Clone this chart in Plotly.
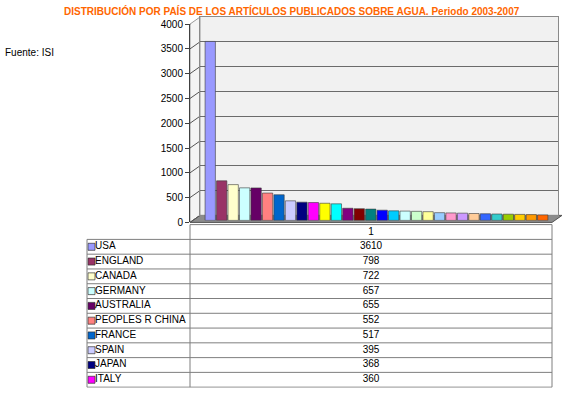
import plotly.graph_objects as go

W, H = 568, 393

title_text = "DISTRIBUCIÓN POR PAÍS DE LOS ARTÍCULOS PUBLICADOS SOBRE AGUA. Periodo 2003-2007"
source_text = "Fuente: ISI"
category = ["1"]

countries = ["USA", "ENGLAND", "CANADA", "GERMANY", "AUSTRALIA",
             "PEOPLES R CHINA", "FRANCE", "SPAIN", "JAPAN", "ITALY"]
values = [3610, 798, 722, 657, 655, 552, 517, 395, 368, 360,
          346, 334, 245, 236, 228, 206, 193, 188, 183, 176,
          156, 151, 146, 139, 134, 129, 125, 121, 117, 111]
y_ticks = [0, 500, 1000, 1500, 2000, 2500, 3000, 3500, 4000]

colors = ["#9999FF", "#993366", "#FFFFCC", "#CCFFFF", "#660066", "#FF8080",
          "#0066CC", "#CCCCFF", "#000080", "#FF00FF", "#FFFF00", "#00FFFF",
          "#800080", "#800000", "#008080", "#0000FF", "#00CCFF", "#CCFFFF",
          "#CCFFCC", "#FFFF99", "#99CCFF", "#FF99CC", "#CC99FF", "#FFCC99",
          "#3366FF", "#33CCCC", "#99CC00", "#FFCC00", "#FF9900", "#FF6600"]

FONT = "Liberation Sans, Arial, sans-serif"

# the captured picture maps figure rows as y_pic = 6.7 + 0.967 * y_fig;
# layout positions below are given in picture pixels and converted here
Y_OFF, Y_SCALE = 6.7, 0.967


def px(x):
    return x / W


def py(y):
    v = 1 - ((y - Y_OFF) / Y_SCALE) / H
    return min(1.0, max(0.0, v))


fig = go.Figure()

# ---- bars (mid-depth axes)
for i, v in enumerate(values):
    fig.add_trace(go.Bar(
        x=category, y=[v], name=countries[i] if i < len(countries) else f"{i+1}",
        marker=dict(color=colors[i], line=dict(color="#3a3a3a", width=0.6)),
        xaxis="x2", yaxis="y2", showlegend=False, hoverinfo="skip"))

fig.add_trace(go.Scatter(x=category, y=[None], xaxis="x", yaxis="y", showlegend=False))
fig.add_trace(go.Scatter(x=category, y=[None], xaxis="x3", yaxis="y3", showlegend=False))

# ---- data table on its own axes (x in pixel units, y = row index)
n_rows = len(countries)
rows = list(range(n_rows))
TX0, TX1, TDIV = 87, 552, 190
LABEL_X = 95
KEY_X = 91.5
VALUE_X = (TDIV + TX1) / 2

fig.add_trace(go.Scatter(
    x=[KEY_X] * n_rows, y=rows, mode="markers",
    marker=dict(symbol="square", size=7, color=colors[:n_rows],
                line=dict(color="#333333", width=0.7)),
    xaxis="x4", yaxis="y4", showlegend=False, hoverinfo="skip"))
fig.add_trace(go.Scatter(
    x=[LABEL_X] * n_rows, y=rows, mode="text", text=countries,
    textposition="middle right", textfont=dict(family=FONT, size=10, color="black"),
    xaxis="x4", yaxis="y4", showlegend=False, hoverinfo="skip"))
fig.add_trace(go.Scatter(
    x=[VALUE_X] * n_rows, y=rows, mode="text", text=[str(v) for v in values[:n_rows]],
    textposition="middle center", textfont=dict(family=FONT, size=10, color="black"),
    xaxis="x4", yaxis="y4", showlegend=False, hoverinfo="skip"))
fig.add_trace(go.Scatter(
    x=[VALUE_X], y=[-1], mode="text", text=category,
    textposition="middle center", textfont=dict(family=FONT, size=10, color="black"),
    xaxis="x4", yaxis="y4", showlegend=False, hoverinfo="skip"))

GRID = "#7f7f7f"
shapes = []
for r in range(n_rows + 1):
    shapes.append(dict(type="line", xref="x4", yref="y4", x0=TX0, x1=TX1,
                       y0=r - 0.5, y1=r - 0.5, line=dict(color=GRID, width=1)))
shapes.append(dict(type="line", xref="x4", yref="y4", x0=TDIV, x1=TX1,
                   y0=-1.5, y1=-1.5, line=dict(color=GRID, width=1)))
shapes.append(dict(type="line", xref="x4", yref="y4", x0=TX0, x1=TX0,
                   y0=-0.5, y1=n_rows - 0.5, line=dict(color=GRID, width=1)))
for xx in (TDIV, TX1):
    shapes.append(dict(type="line", xref="x4", yref="y4", x0=xx, x1=xx,
                       y0=-1.5, y1=n_rows - 0.5, line=dict(color=GRID, width=1)))

DY = 7 * 4000 / 197.3  # back-wall offset in value units

# back wall
shapes.append(dict(type="rect", xref="paper", yref="paper", x0=px(200), x1=px(558),
                   y0=py(215), y1=py(17.7), fillcolor="#F1F1F1",
                   line=dict(width=0), layer="below"))
# left wall
shapes.append(dict(type="path", xref="paper", yref="paper",
                   path=f"M {px(190)} {py(222)} L {px(190)} {py(24.7)} L {px(200)} {py(17.7)} L {px(200)} {py(215)} Z",
                   fillcolor="#F4F4F4", line=dict(color="#9a9a9a", width=1), layer="below"))
# floor
shapes.append(dict(type="path", xref="paper", yref="paper",
                   path=f"M {px(190)} {py(222)} L {px(552)} {py(222)} L {px(562)} {py(215)} L {px(200)} {py(215)} Z",
                   fillcolor="#8c8c8c", line=dict(color="#555555", width=1), layer="below"))
# left-wall connectors from front ticks to back gridlines
for t in y_ticks:
    shapes.append(dict(type="line", xref="paper", yref="y3", x0=px(190), x1=px(200),
                       y0=t, y1=t + DY, line=dict(color="#555555", width=1), layer="below"))

ROW_H = 14.7
TABLE_TOP = 224.2
TABLE_BOTTOM = TABLE_TOP + ROW_H * (n_rows + 1)

fig.update_layout(
    width=W, height=H,
    margin=dict(l=0, r=0, t=0, b=0),
    paper_bgcolor="white",
    plot_bgcolor="rgba(0,0,0,0)",
    barmode="group", bargap=0.02, bargroupgap=0.1,
    showlegend=False,
    font=dict(family=FONT, size=10, color="black"),
    shapes=shapes,
    # back wall axes (gridlines)
    xaxis=dict(domain=[px(200), px(558)], anchor="y", visible=True, showticklabels=False,
               ticks="", showgrid=False, showline=True, linecolor="#8a8a8a", mirror=True,
               fixedrange=True),
    yaxis=dict(domain=[py(215), py(17.7)], anchor="x", range=[0, 4000], tickvals=y_ticks,
               showticklabels=False, ticks="", showgrid=True, gridcolor="#6b6b6b",
               gridwidth=1, zeroline=False, showline=True, linecolor="#8a8a8a",
               mirror=True, fixedrange=True),
    # bars
    xaxis2=dict(domain=[px(201), px(552)], anchor="y2", visible=False, fixedrange=True),
    yaxis2=dict(domain=[py(220), py(22.7)], anchor="x2", range=[0, 4000], visible=False,
                fixedrange=True),
    # front value axis
    xaxis3=dict(domain=[px(190), px(552)], anchor="y3", visible=False, fixedrange=True),
    yaxis3=dict(domain=[py(222), py(24.7)], anchor="x3", range=[0, 4000], tickvals=y_ticks,
                ticks="outside", ticklen=4, tickcolor="#404040", showline=True,
                linecolor="#404040", linewidth=1, showgrid=False, zeroline=False,
                tickfont=dict(family=FONT, size=10, color="black"), fixedrange=True),
    # data table axes
    xaxis4=dict(domain=[px(TX0 - 1), px(TX1 + 1)], anchor="y4", range=[TX0 - 1, TX1 + 1],
                visible=False, fixedrange=True),
    yaxis4=dict(domain=[py(TABLE_BOTTOM + 0.5), py(TABLE_TOP - 0.5)], anchor="x4",
                range=[n_rows - 0.5 + 0.5 / ROW_H, -1.5 - 0.5 / ROW_H],
                visible=False, fixedrange=True),
    annotations=[
        dict(text=title_text, xref="paper", yref="paper", x=px(292), y=py(11.5),
             xanchor="center", yanchor="middle", showarrow=False,
             font=dict(family=FONT, size=10, color="#FF6600", weight="bold")),
        dict(text=source_text, xref="paper", yref="paper", x=px(3), y=py(53),
             xanchor="left", yanchor="middle", showarrow=False,
             font=dict(family=FONT, size=10, color="black")),
    ],
)

fig.write_html("out.html", config={"displayModeBar": False},
               post_script="document.body.style.margin='0px';")
